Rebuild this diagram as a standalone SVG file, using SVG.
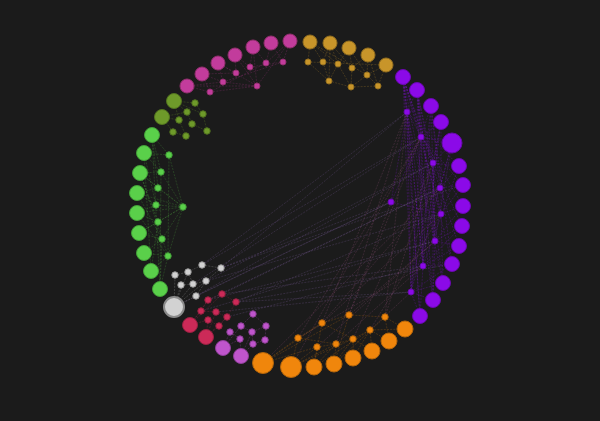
<svg xmlns="http://www.w3.org/2000/svg" width="600" height="421" viewBox="0 0 600 421">
<style>
.bg{fill:#1b1b1b}
#connectors path{fill:none;stroke-width:0.6;stroke-dasharray:2 1.2}
.em{stroke:#c23c9c;opacity:.35}
.eg{stroke:#c8952a;opacity:.4}
.eo{stroke:#6e9a2a;opacity:.45}
.egr{stroke:#5ad04a;opacity:.35}
.ew{stroke:#cfcfcf;opacity:.35}
.ec{stroke:#cc2a58;opacity:.4}
.ev{stroke:#bf55cc;opacity:.4}
.eor{stroke:#f0860c;opacity:.35}
.ep{stroke:#8b10e8;opacity:.4}
.xw{stroke:#8a66b0;opacity:.4}
.xo{stroke:#a85a8a;opacity:.38}
.m circle{fill:#c23c9c;stroke:#93306f;stroke-width:1}
.g circle{fill:#c8952a;stroke:#96701f;stroke-width:1}
.p circle{fill:#8b0ae8;stroke:#6a08b0;stroke-width:1}
.o circle{fill:#f0860c;stroke:#b4650a;stroke-width:1}
.v circle{fill:#bf55cc;stroke:#8f3f99;stroke-width:1}
.c circle{fill:#cc2a58;stroke:#9a2042;stroke-width:1}
.w circle{fill:#d2d2d2;stroke:#9a9a9a;stroke-width:1}
.w circle.big{stroke:#8a8a8a;stroke-width:2}
.gr circle{fill:#5ad04a;stroke:#43a038;stroke-width:1}
.ol circle{fill:#6e9a2a;stroke:#52741f;stroke-width:1}
</style>
<rect class="bg" x="0" y="0" width="600" height="421"/>
<g id="connectors">
<path class="ep" d="M403,77L407,112M403,77L421,137M403,77L433,163M403,77L440,188M403,77L441,214M403,77L435,241M417,90L407,112M417,90L421,137M417,90L433,163M417,90L441,214M417,90L423,266M431,106L407,112M431,106L421,137M431,106L440,188M431,106L435,241M431,106L411,292M441,122L421,137M441,122L433,163M441,122L441,214M441,122L423,266M452,143L421,137M452,143L433,163M452,143L440,188M452,143L435,241M452,143L411,292M459,166L433,163M459,166L440,188M459,166L407,112M459,166L423,266M463,185L440,188M463,185L441,214M463,185L421,137M463,206L441,214M463,206L435,241M463,206L407,112M462,226L435,241M462,226L433,163M462,226L423,266M459,246L435,241M459,246L423,266M459,246L440,188M452,264L423,266M452,264L411,292M452,264L421,137M443,283L411,292M443,283L441,214M443,283L407,112M433,300L411,292M433,300L435,241M433,300L433,163M420,316L411,292M420,316L423,266M420,316L407,112M403,77L420,316M417,90L433,300M391,202L407,112M391,202L441,214M391,202L421,137M407,112L411,292M421,137L423,266M433,163L435,241M403,77L411,292M403,77L423,266M417,90L435,241M431,106L423,266M441,122L411,292M417,90L443,283M403,77L433,300M431,106L452,264M407,112L423,266M421,137L411,292"/>
<path class="xw" d="M221,268L407,112M202,265L421,137M206,281L433,163M196,296L391,202M222,294L440,188M236,302L441,214M208,300L435,241M221,268L391,202M222,294L423,266M236,302L411,292M206,281L441,214M202,265L407,112M201,311L435,241M227,317L423,266M196,296L433,163M193,284L421,137M208,300L440,188M216,312L411,292M174,307L391,202M236,302L452,264M221,268L463,185"/>
<path class="xo" d="M322,323L407,112M349,315L421,137M385,317L433,163M322,323L440,188M349,315L391,202M370,330L441,214M298,338L421,137M317,347L435,241M336,344L423,266M353,339L433,163M385,317L407,112M370,330L411,292M322,323L441,214M349,315L435,241M298,338L423,266M336,344L407,112M291,367L421,137M263,363L440,188"/>
<path class="em" d="M187,86L210,92M187,86L223,82M202,74L210,92M202,74L223,82M202,74L236,73M218,63L223,82M218,63L236,73M218,63L257,86M235,55L236,73M235,55L250,67M235,55L257,86M253,47L250,67M253,47L266,63M271,43L266,63M271,43L283,62M290,41L283,62M290,41L266,63M210,92L257,86M223,82L257,86M187,86L257,86M290,41L257,86M253,47L257,86M250,67L283,62M210,92L266,63M223,82L283,62"/>
<path class="eg" d="M310,42L308,62M310,42L323,62M310,42L338,64M330,43L323,62M330,43L338,64M330,43L352,68M349,48L338,64M349,48L352,68M349,48L367,75M368,55L352,68M368,55L367,75M368,55L378,86M386,65L367,75M386,65L378,86M308,62L329,81M323,62L329,81M338,64L329,81M338,64L351,87M352,68L351,87M367,75L351,87M367,75L378,86M329,81L351,87M351,87L378,86M310,42L367,75M330,43L329,81M386,65L308,62"/>
<path class="eo" d="M174,101L195,103M174,101L187,112M174,101L179,120M162,117L179,120M162,117L173,132M162,117L187,112M195,103L203,114M187,112L192,124M179,120L186,136M203,114L207,131M192,124L207,131M173,132L186,136M174,101L203,114"/>
<path class="egr" d="M152,135L169,155M152,135L161,172M152,135L158,188M144,153L169,155M144,153L161,172M144,153L156,205M140,173L161,172M140,173L158,188M140,173L158,222M137,193L158,188M137,193L156,205M137,193L162,239M137,213L156,205M137,213L158,222M137,213L168,256M139,233L158,222M139,233L162,239M144,253L162,239M144,253L168,256M151,271L168,256M151,271L158,222M160,289L168,256M160,289L162,239M183,207L169,155M183,207L161,172M183,207L158,188M183,207L156,205M183,207L158,222M183,207L162,239M183,207L168,256M183,207L137,193M183,207L137,213M152,135L160,289M144,153L151,271M169,155L168,256M140,173L168,256M161,172L160,289M183,207L140,173M183,207L139,233"/>
<path class="ew" d="M174,307L175,275M174,307L181,285M174,307L193,284M174,307L196,296M174,307L206,281M175,275L188,272M188,272L202,265M181,285L193,284M193,284L206,281M202,265L221,268M221,268L206,281M188,272L193,284M196,296L206,281M174,307L188,272"/>
<path class="ec" d="M190,325L201,311M190,325L208,320M190,325L208,300M206,337L208,320M206,337L219,326M206,337L216,312M222,294L208,300M222,294L236,302M208,300L201,311M201,311L216,312M216,312L227,317M236,302L227,317M208,320L219,326M227,317L219,326M190,325L222,294M206,337L227,317"/>
<path class="ev" d="M223,348L241,326M223,348L230,332M223,348L240,339M241,356L240,339M241,356L253,344M241,356L252,332M253,314L241,326M253,314L266,326M241,326L252,332M266,326L265,340M230,332L240,339M252,332L253,344M265,340L253,344M266,326L252,332"/>
<path class="eor" d="M263,363L298,338M263,363L317,347M263,363L322,323M291,367L298,338M291,367L317,347M291,367L336,344M314,367L317,347M314,367L336,344M314,367L322,323M334,364L336,344M334,364L353,339M334,364L349,315M353,358L353,339M353,358L370,330M372,351L370,330M372,351L353,339M389,341L370,330M389,341L385,317M405,329L385,317M405,329L370,330M298,338L322,323M322,323L349,315M349,315L385,317M317,347L336,344M336,344L353,339M353,339L370,330M263,363L349,315M291,367L353,339M314,367L370,330M334,364L385,317M298,338L336,344M322,323L353,339"/>
</g>
<g id="m1" class="m"><circle cx="187" cy="86" r="7"/></g>
<g id="m2" class="m"><circle cx="202" cy="74" r="7"/></g>
<g id="m3" class="m"><circle cx="218" cy="63" r="7"/></g>
<g id="m4" class="m"><circle cx="235" cy="55" r="7"/></g>
<g id="m5" class="m"><circle cx="253" cy="47" r="7"/></g>
<g id="m6" class="m"><circle cx="271" cy="43" r="7"/></g>
<g id="m7" class="m"><circle cx="290" cy="41" r="7"/></g>
<g id="m8" class="m"><circle cx="210" cy="92" r="3"/></g>
<g id="m9" class="m"><circle cx="223" cy="82" r="3"/></g>
<g id="m10" class="m"><circle cx="236" cy="73" r="3"/></g>
<g id="m11" class="m"><circle cx="250" cy="67" r="3"/></g>
<g id="m12" class="m"><circle cx="266" cy="63" r="3"/></g>
<g id="m13" class="m"><circle cx="283" cy="62" r="3"/></g>
<g id="m14" class="m"><circle cx="257" cy="86" r="3"/></g>
<g id="g1" class="g"><circle cx="310" cy="42" r="7"/></g>
<g id="g2" class="g"><circle cx="330" cy="43" r="7"/></g>
<g id="g3" class="g"><circle cx="349" cy="48" r="7"/></g>
<g id="g4" class="g"><circle cx="368" cy="55" r="7"/></g>
<g id="g5" class="g"><circle cx="386" cy="65" r="7"/></g>
<g id="g6" class="g"><circle cx="308" cy="62" r="3"/></g>
<g id="g7" class="g"><circle cx="323" cy="62" r="3"/></g>
<g id="g8" class="g"><circle cx="338" cy="64" r="3"/></g>
<g id="g9" class="g"><circle cx="352" cy="68" r="3"/></g>
<g id="g10" class="g"><circle cx="367" cy="75" r="3"/></g>
<g id="g11" class="g"><circle cx="329" cy="81" r="3"/></g>
<g id="g12" class="g"><circle cx="351" cy="87" r="3"/></g>
<g id="g13" class="g"><circle cx="378" cy="86" r="3"/></g>
<g id="p1" class="p"><circle cx="403" cy="77" r="7.5"/></g>
<g id="p2" class="p"><circle cx="417" cy="90" r="7.5"/></g>
<g id="p3" class="p"><circle cx="431" cy="106" r="7.5"/></g>
<g id="p4" class="p"><circle cx="441" cy="122" r="7.5"/></g>
<g id="p5" class="p"><circle cx="452" cy="143" r="10"/></g>
<g id="p6" class="p"><circle cx="459" cy="166" r="7.5"/></g>
<g id="p7" class="p"><circle cx="463" cy="185" r="7.5"/></g>
<g id="p8" class="p"><circle cx="463" cy="206" r="7.5"/></g>
<g id="p9" class="p"><circle cx="462" cy="226" r="7.5"/></g>
<g id="p10" class="p"><circle cx="459" cy="246" r="7.5"/></g>
<g id="p11" class="p"><circle cx="452" cy="264" r="7.5"/></g>
<g id="p12" class="p"><circle cx="443" cy="283" r="7.5"/></g>
<g id="p13" class="p"><circle cx="433" cy="300" r="7.5"/></g>
<g id="p14" class="p"><circle cx="420" cy="316" r="7.5"/></g>
<g id="p15" class="p"><circle cx="407" cy="112" r="3"/></g>
<g id="p16" class="p"><circle cx="421" cy="137" r="3"/></g>
<g id="p17" class="p"><circle cx="433" cy="163" r="3"/></g>
<g id="p18" class="p"><circle cx="440" cy="188" r="3"/></g>
<g id="p19" class="p"><circle cx="441" cy="214" r="3"/></g>
<g id="p20" class="p"><circle cx="391" cy="202" r="3"/></g>
<g id="p21" class="p"><circle cx="435" cy="241" r="3"/></g>
<g id="p22" class="p"><circle cx="423" cy="266" r="3"/></g>
<g id="p23" class="p"><circle cx="411" cy="292" r="3"/></g>
<g id="o1" class="o"><circle cx="263" cy="363" r="10.5"/></g>
<g id="o2" class="o"><circle cx="291" cy="367" r="10.5"/></g>
<g id="o3" class="o"><circle cx="314" cy="367" r="8"/></g>
<g id="o4" class="o"><circle cx="334" cy="364" r="8"/></g>
<g id="o5" class="o"><circle cx="353" cy="358" r="8"/></g>
<g id="o6" class="o"><circle cx="372" cy="351" r="8"/></g>
<g id="o7" class="o"><circle cx="389" cy="341" r="8"/></g>
<g id="o8" class="o"><circle cx="405" cy="329" r="8"/></g>
<g id="o9" class="o"><circle cx="298" cy="338" r="3.2"/></g>
<g id="o10" class="o"><circle cx="317" cy="347" r="3.2"/></g>
<g id="o11" class="o"><circle cx="322" cy="323" r="3.2"/></g>
<g id="o12" class="o"><circle cx="336" cy="344" r="3.2"/></g>
<g id="o13" class="o"><circle cx="349" cy="315" r="3.2"/></g>
<g id="o14" class="o"><circle cx="353" cy="339" r="3.2"/></g>
<g id="o15" class="o"><circle cx="370" cy="330" r="3.2"/></g>
<g id="o16" class="o"><circle cx="385" cy="317" r="3.2"/></g>
<g id="v1" class="v"><circle cx="223" cy="348" r="7.5"/></g>
<g id="v2" class="v"><circle cx="241" cy="356" r="7.5"/></g>
<g id="v3" class="v"><circle cx="253" cy="314" r="3.2"/></g>
<g id="v4" class="v"><circle cx="241" cy="326" r="3.2"/></g>
<g id="v5" class="v"><circle cx="266" cy="326" r="3.2"/></g>
<g id="v6" class="v"><circle cx="230" cy="332" r="3.2"/></g>
<g id="v7" class="v"><circle cx="252" cy="332" r="3.2"/></g>
<g id="v8" class="v"><circle cx="240" cy="339" r="3.2"/></g>
<g id="v9" class="v"><circle cx="265" cy="340" r="3.2"/></g>
<g id="v10" class="v"><circle cx="253" cy="344" r="3.2"/></g>
<g id="c1" class="c"><circle cx="190" cy="325" r="7.5"/></g>
<g id="c2" class="c"><circle cx="206" cy="337" r="7.5"/></g>
<g id="c3" class="c"><circle cx="222" cy="294" r="3.2"/></g>
<g id="c4" class="c"><circle cx="208" cy="300" r="3.2"/></g>
<g id="c5" class="c"><circle cx="236" cy="302" r="3.2"/></g>
<g id="c6" class="c"><circle cx="201" cy="311" r="3.2"/></g>
<g id="c7" class="c"><circle cx="216" cy="312" r="3.2"/></g>
<g id="c8" class="c"><circle cx="227" cy="317" r="3.2"/></g>
<g id="c9" class="c"><circle cx="208" cy="320" r="3.2"/></g>
<g id="c10" class="c"><circle cx="219" cy="326" r="3.2"/></g>
<g id="w1" class="w"><circle class="big" cx="174" cy="307" r="10"/></g>
<g id="w2" class="w"><circle cx="175" cy="275" r="3.2"/></g>
<g id="w3" class="w"><circle cx="188" cy="272" r="3.2"/></g>
<g id="w4" class="w"><circle cx="202" cy="265" r="3.2"/></g>
<g id="w5" class="w"><circle cx="221" cy="268" r="3.2"/></g>
<g id="w6" class="w"><circle cx="181" cy="285" r="3.2"/></g>
<g id="w7" class="w"><circle cx="193" cy="284" r="3.2"/></g>
<g id="w8" class="w"><circle cx="206" cy="281" r="3.2"/></g>
<g id="w9" class="w"><circle cx="196" cy="296" r="3.2"/></g>
<g id="gr1" class="gr"><circle cx="152" cy="135" r="7.5"/></g>
<g id="gr2" class="gr"><circle cx="144" cy="153" r="7.5"/></g>
<g id="gr3" class="gr"><circle cx="140" cy="173" r="7.5"/></g>
<g id="gr4" class="gr"><circle cx="137" cy="193" r="7.5"/></g>
<g id="gr5" class="gr"><circle cx="137" cy="213" r="7.5"/></g>
<g id="gr6" class="gr"><circle cx="139" cy="233" r="7.5"/></g>
<g id="gr7" class="gr"><circle cx="144" cy="253" r="7.5"/></g>
<g id="gr8" class="gr"><circle cx="151" cy="271" r="7.5"/></g>
<g id="gr9" class="gr"><circle cx="160" cy="289" r="7.5"/></g>
<g id="gr10" class="gr"><circle cx="169" cy="155" r="3.2"/></g>
<g id="gr11" class="gr"><circle cx="161" cy="172" r="3.2"/></g>
<g id="gr12" class="gr"><circle cx="158" cy="188" r="3.2"/></g>
<g id="gr13" class="gr"><circle cx="156" cy="205" r="3.2"/></g>
<g id="gr14" class="gr"><circle cx="158" cy="222" r="3.2"/></g>
<g id="gr15" class="gr"><circle cx="162" cy="239" r="3.2"/></g>
<g id="gr16" class="gr"><circle cx="168" cy="256" r="3.2"/></g>
<g id="gr17" class="gr"><circle cx="183" cy="207" r="3.2"/></g>
<g id="ol1" class="ol"><circle cx="174" cy="101" r="7.5"/></g>
<g id="ol2" class="ol"><circle cx="162" cy="117" r="7.5"/></g>
<g id="ol3" class="ol"><circle cx="195" cy="103" r="3.2"/></g>
<g id="ol4" class="ol"><circle cx="187" cy="112" r="3.2"/></g>
<g id="ol5" class="ol"><circle cx="203" cy="114" r="3.2"/></g>
<g id="ol6" class="ol"><circle cx="179" cy="120" r="3.2"/></g>
<g id="ol7" class="ol"><circle cx="192" cy="124" r="3.2"/></g>
<g id="ol8" class="ol"><circle cx="173" cy="132" r="3.2"/></g>
<g id="ol9" class="ol"><circle cx="186" cy="136" r="3.2"/></g>
<g id="ol10" class="ol"><circle cx="207" cy="131" r="3.2"/></g>
</svg>
